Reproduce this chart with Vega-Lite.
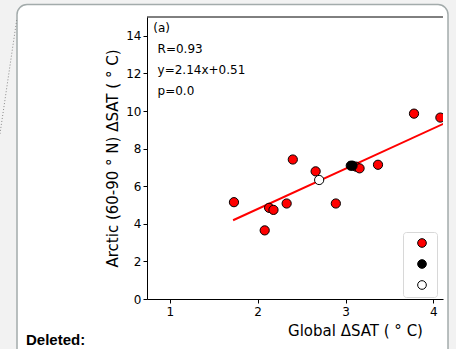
{
  "$schema": "https://vega.github.io/schema/vega-lite/v6.json",
  "autosize": "none",
  "width": 296,
  "height": 282,
  "padding": {"left": 147, "top": 17, "right": 13, "bottom": 50},
  "background": "#f2f2f2",
  "config": {
    "view": {"stroke": null},
    "font": "DejaVu Sans",
    "axis": {
      "grid": false,
      "domainColor": "black",
      "domainWidth": 1,
      "tickColor": "black",
      "tickSize": 4,
      "labelColor": "black",
      "labelFont": "DejaVu Sans",
      "labelFontSize": 12,
      "titleFont": "DejaVu Sans",
      "titleFontSize": 15,
      "titleFontWeight": "normal",
      "titleColor": "black"
    }
  },
  "data": {
    "values": [
      {"global": 1.73, "arctic": 5.15, "group": "Models"},
      {"global": 2.08, "arctic": 3.65, "group": "Models"},
      {"global": 2.13, "arctic": 4.85, "group": "Models"},
      {"global": 2.18, "arctic": 4.74, "group": "Models"},
      {"global": 2.33, "arctic": 5.08, "group": "Models"},
      {"global": 2.40, "arctic": 7.42, "group": "Models"},
      {"global": 2.66, "arctic": 6.79, "group": "Models"},
      {"global": 2.89, "arctic": 5.08, "group": "Models"},
      {"global": 3.12, "arctic": 7.04, "group": "Models"},
      {"global": 3.16, "arctic": 6.95, "group": "Models"},
      {"global": 3.37, "arctic": 7.14, "group": "Models"},
      {"global": 3.78, "arctic": 9.86, "group": "Models"},
      {"global": 4.08, "arctic": 9.65, "group": "Models"},
      {"global": 3.06, "arctic": 7.09, "group": "Multi-model mean"},
      {"global": 3.08, "arctic": 7.09, "group": "Multi-model mean"},
      {"global": 2.70, "arctic": 6.33, "group": "Reference"}
    ]
  },
  "layer": [
    {
      "data": {"values": [{}]},
      "mark": {"type": "rect", "clip": false, "fill": "white", "stroke": "#a3abab", "strokeWidth": 1.5, "cornerRadius": 10},
      "encoding": {
        "x": {
          "datum": -0.74, "type": "quantitative",
          "scale": {"domain": [0.74, 4.11], "nice": false, "zero": false},
          "axis": {"values": [1, 2, 3, 4], "format": "d", "title": "Global ΔSAT ( ° C)", "labelPadding": 3, "titlePadding": 6, "titleX": 208, "zindex": 2}
        },
        "x2": {"datum": 4.167},
        "y": {
          "datum": 15.665, "type": "quantitative",
          "scale": {"domain": [0, 15], "nice": false, "zero": false},
          "axis": {"values": [0, 2, 4, 6, 8, 10, 12, 14], "format": "d", "title": "Arctic (60-90 ° N) ΔSAT ( ° C)", "labelPadding": 2, "titlePadding": 5, "zindex": 2}
        },
        "y2": {"datum": -4}
      }
    },
    {
      "data": {"values": [{}]},
      "mark": {"type": "rule", "clip": false, "color": "#8a8a8a", "strokeWidth": 1, "strokeDash": [1, 2]},
      "encoding": {
        "x": {"datum": -0.7436, "type": "quantitative"},
        "y": {"datum": 14.84, "type": "quantitative"},
        "x2": {"datum": -0.934},
        "y2": {"datum": 8.78}
      }
    },
    {
      "data": {"values": [{}]},
      "mark": {"type": "text", "clip": false, "text": "Deleted:", "font": "Liberation Sans", "fontWeight": "bold", "fontSize": 15, "align": "left", "baseline": "alphabetic", "color": "black"},
      "encoding": {
        "x": {"datum": -0.638, "type": "quantitative"},
        "y": {"datum": -2.447, "type": "quantitative"}
      }
    },
    {
      "data": {"values": [{}]},
      "mark": {"type": "rule", "color": "black", "strokeWidth": 1},
      "encoding": {
        "y": {"datum": 15, "type": "quantitative"}
      }
    },
    {
      "data": {"values": [{"global": 1.72, "arctic": 4.19}, {"global": 4.2, "arctic": 9.5}]},
      "mark": {"type": "line", "color": "#ff0000", "strokeWidth": 2, "clip": true},
      "encoding": {
        "x": {"field": "global", "type": "quantitative"},
        "y": {"field": "arctic", "type": "quantitative"}
      }
    },
    {
      "mark": {"type": "circle", "size": 85, "opacity": 1, "stroke": "black", "strokeWidth": 1, "clip": true},
      "encoding": {
        "x": {"field": "global", "type": "quantitative"},
        "y": {"field": "arctic", "type": "quantitative"},
        "fill": {
          "field": "group", "type": "nominal",
          "scale": {"domain": ["Models", "Multi-model mean", "Reference"], "range": ["#ff0000", "#000000", "#ffffff"]},
          "legend": {
            "orient": "none", "legendX": 256, "legendY": 215,
            "title": null, "labelExpr": "''",
            "symbolType": "circle", "symbolSize": 75, "symbolStrokeColor": "black", "symbolStrokeWidth": 1,
            "padding": 5, "rowPadding": 7, "symbolOffset": 8, "labelFontSize": 12,
            "strokeColor": "#d8d8d8", "fillColor": "white", "cornerRadius": 3
          }
        }
      }
    },
    {
      "data": {"values": [{}]},
      "mark": {"type": "text", "text": "(a)", "fontSize": 12, "align": "left", "baseline": "alphabetic", "color": "black"},
      "encoding": {"x": {"datum": 0.812, "type": "quantitative"}, "y": {"datum": 14.2, "type": "quantitative"}}
    },
    {
      "data": {"values": [{}]},
      "mark": {"type": "text", "text": "R=0.93", "fontSize": 12, "align": "left", "baseline": "alphabetic", "color": "black"},
      "encoding": {"x": {"datum": 0.86, "type": "quantitative"}, "y": {"datum": 13.085, "type": "quantitative"}}
    },
    {
      "data": {"values": [{}]},
      "mark": {"type": "text", "text": "y=2.14x+0.51", "fontSize": 12, "align": "left", "baseline": "alphabetic", "color": "black"},
      "encoding": {"x": {"datum": 0.86, "type": "quantitative"}, "y": {"datum": 11.968, "type": "quantitative"}}
    },
    {
      "data": {"values": [{}]},
      "mark": {"type": "text", "text": "p=0.0", "fontSize": 12, "align": "left", "baseline": "alphabetic", "color": "black"},
      "encoding": {"x": {"datum": 0.86, "type": "quantitative"}, "y": {"datum": 10.851, "type": "quantitative"}}
    }
  ]
}
